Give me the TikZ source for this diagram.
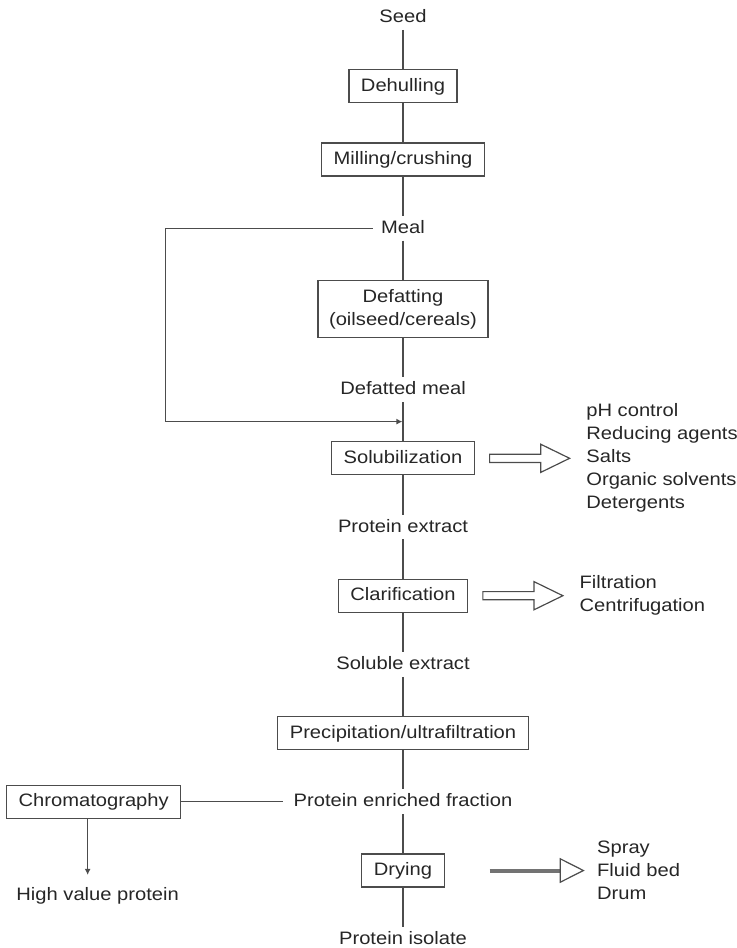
\documentclass[tikz,border=0pt]{standalone}
\usepackage{fontspec}
\setmainfont{Liberation Sans}[FakeStretch=1.12]
\usepackage{tikz}
\usetikzlibrary{arrows.meta, positioning, shapes.arrows}

\begin{document}
\begin{tikzpicture}[
			font=\fontsize{9}{11.5}\selectfont,
			text=black!85,
			stepbox/.style={draw=black!70, line width=0.6pt, inner xsep=6pt, inner ysep=0pt, minimum height=16.5pt, text height=7pt, text depth=2pt},
			twobox/.style={draw=black!70, line width=0.6pt, align=center, inner xsep=5.5pt, minimum height=28.5pt},
			stage/.style={inner xsep=1pt, inner ysep=1.5pt, text height=7pt, text depth=2pt},
			sidelist/.style={align=left, inner xsep=0pt},
			hollow/.style={single arrow, draw=black!70, line width=0.6pt, inner xsep=0pt, inner ysep=1.75pt, minimum height=40pt, single arrow head extend=5pt, single arrow tip angle=52},
			line/.style={draw=black!70, line width=0.6pt},
			feed/.style={line, -{Latex[length=3pt, width=3pt]}},
			dryarrow/.style={draw=black!55, line width=2pt, -{Triangle[open, length=12.5pt, width=12.5pt, line width=0.6pt, color=black!70]}},
			node distance=19.6pt
			]
			\useasboundingbox (0,0) rectangle (368pt,-474pt);
			
			% --- main column ---
			\node[stage] (seed) at (201.5pt,-8.7pt) {Seed};
			\node[stepbox, below=of seed] (dehull) {Dehulling};
			\node[stepbox, below=of dehull] (mill) {Milling/crushing};
			\node[stage, below=of mill] (meal) {Meal};
			\node[twobox, below=of meal] (defat) {Defatting\\(oilseed/cereals)};
			\node[stage, below=of defat] (dmeal) {Defatted meal};
			\node[stepbox, below=of dmeal] (solub) {Solubilization};
			\node[stage, below=of solub] (pext) {Protein extract};
			\node[stepbox, below=of pext] (clarif) {Clarification};
			\node[stage, below=of clarif] (sext) {Soluble extract};
			\node[stepbox, below=of sext] (precip) {Precipitation/ultrafiltration};
			\node[stage, below=of precip] (pef) {Protein enriched fraction};
			\node[stepbox, below=of pef] (dry) {Drying};
			\node[stage, below=of dry] (piso) {Protein isolate};
			
			% --- side branch ---
			\node[stepbox, left=55pt of pef] (chrom) {Chromatography};
			\node[stage, below=32pt of chrom, xshift=2pt] (hvp) {High value protein};
			
			% --- options ---
			\node[hollow, right=7pt of solub] (solarrow) {};
			\node[sidelist, right=7.5pt of solarrow] (sollist) {pH control\\Reducing agents\\Salts\\Organic solvents\\Detergents};
			\node[hollow, right=7pt of clarif] (clarrow) {};
			\node[sidelist, right=7.5pt of clarrow] (cllist) {Filtration\\Centrifugation};
			\node[sidelist, right=76pt of dry] (drylist) {Spray\\Fluid bed\\Drum};
			
			% --- connectors ---
			\draw[line] (seed) -- (dehull);
			\draw[line] (dehull) -- (mill);
			\draw[line] (mill) -- (meal);
			\draw[line] (meal) -- (defat);
			\draw[line] (defat) -- (dmeal);
			\draw[line] (dmeal) -- coordinate[midway] (join) (solub);
			\draw[line] (solub) -- (pext);
			\draw[line] (pext) -- (clarif);
			\draw[line] (clarif) -- (sext);
			\draw[line] (sext) -- (precip);
			\draw[line] (precip) -- (pef);
			\draw[line] (pef) -- (dry);
			\draw[line] (dry) -- (piso);
			
			% --- bypass of defatting ---
			\draw[feed, shorten <=3pt, shorten >=0.3pt] (meal.west) -- ++(-106.5pt,0) |- (join);
			
			\draw[line, shorten >=4pt] (chrom.east) -- (pef.west);
			\draw[feed, shorten >=4pt] ([xshift=-3pt]chrom.south) -- ([xshift=-3pt]chrom.south |- hvp.north);
			
			\draw[dryarrow] ([xshift=22.5pt]dry.east) -- ([xshift=-6pt]drylist.west);
			
	\end{tikzpicture}
\end{document}
